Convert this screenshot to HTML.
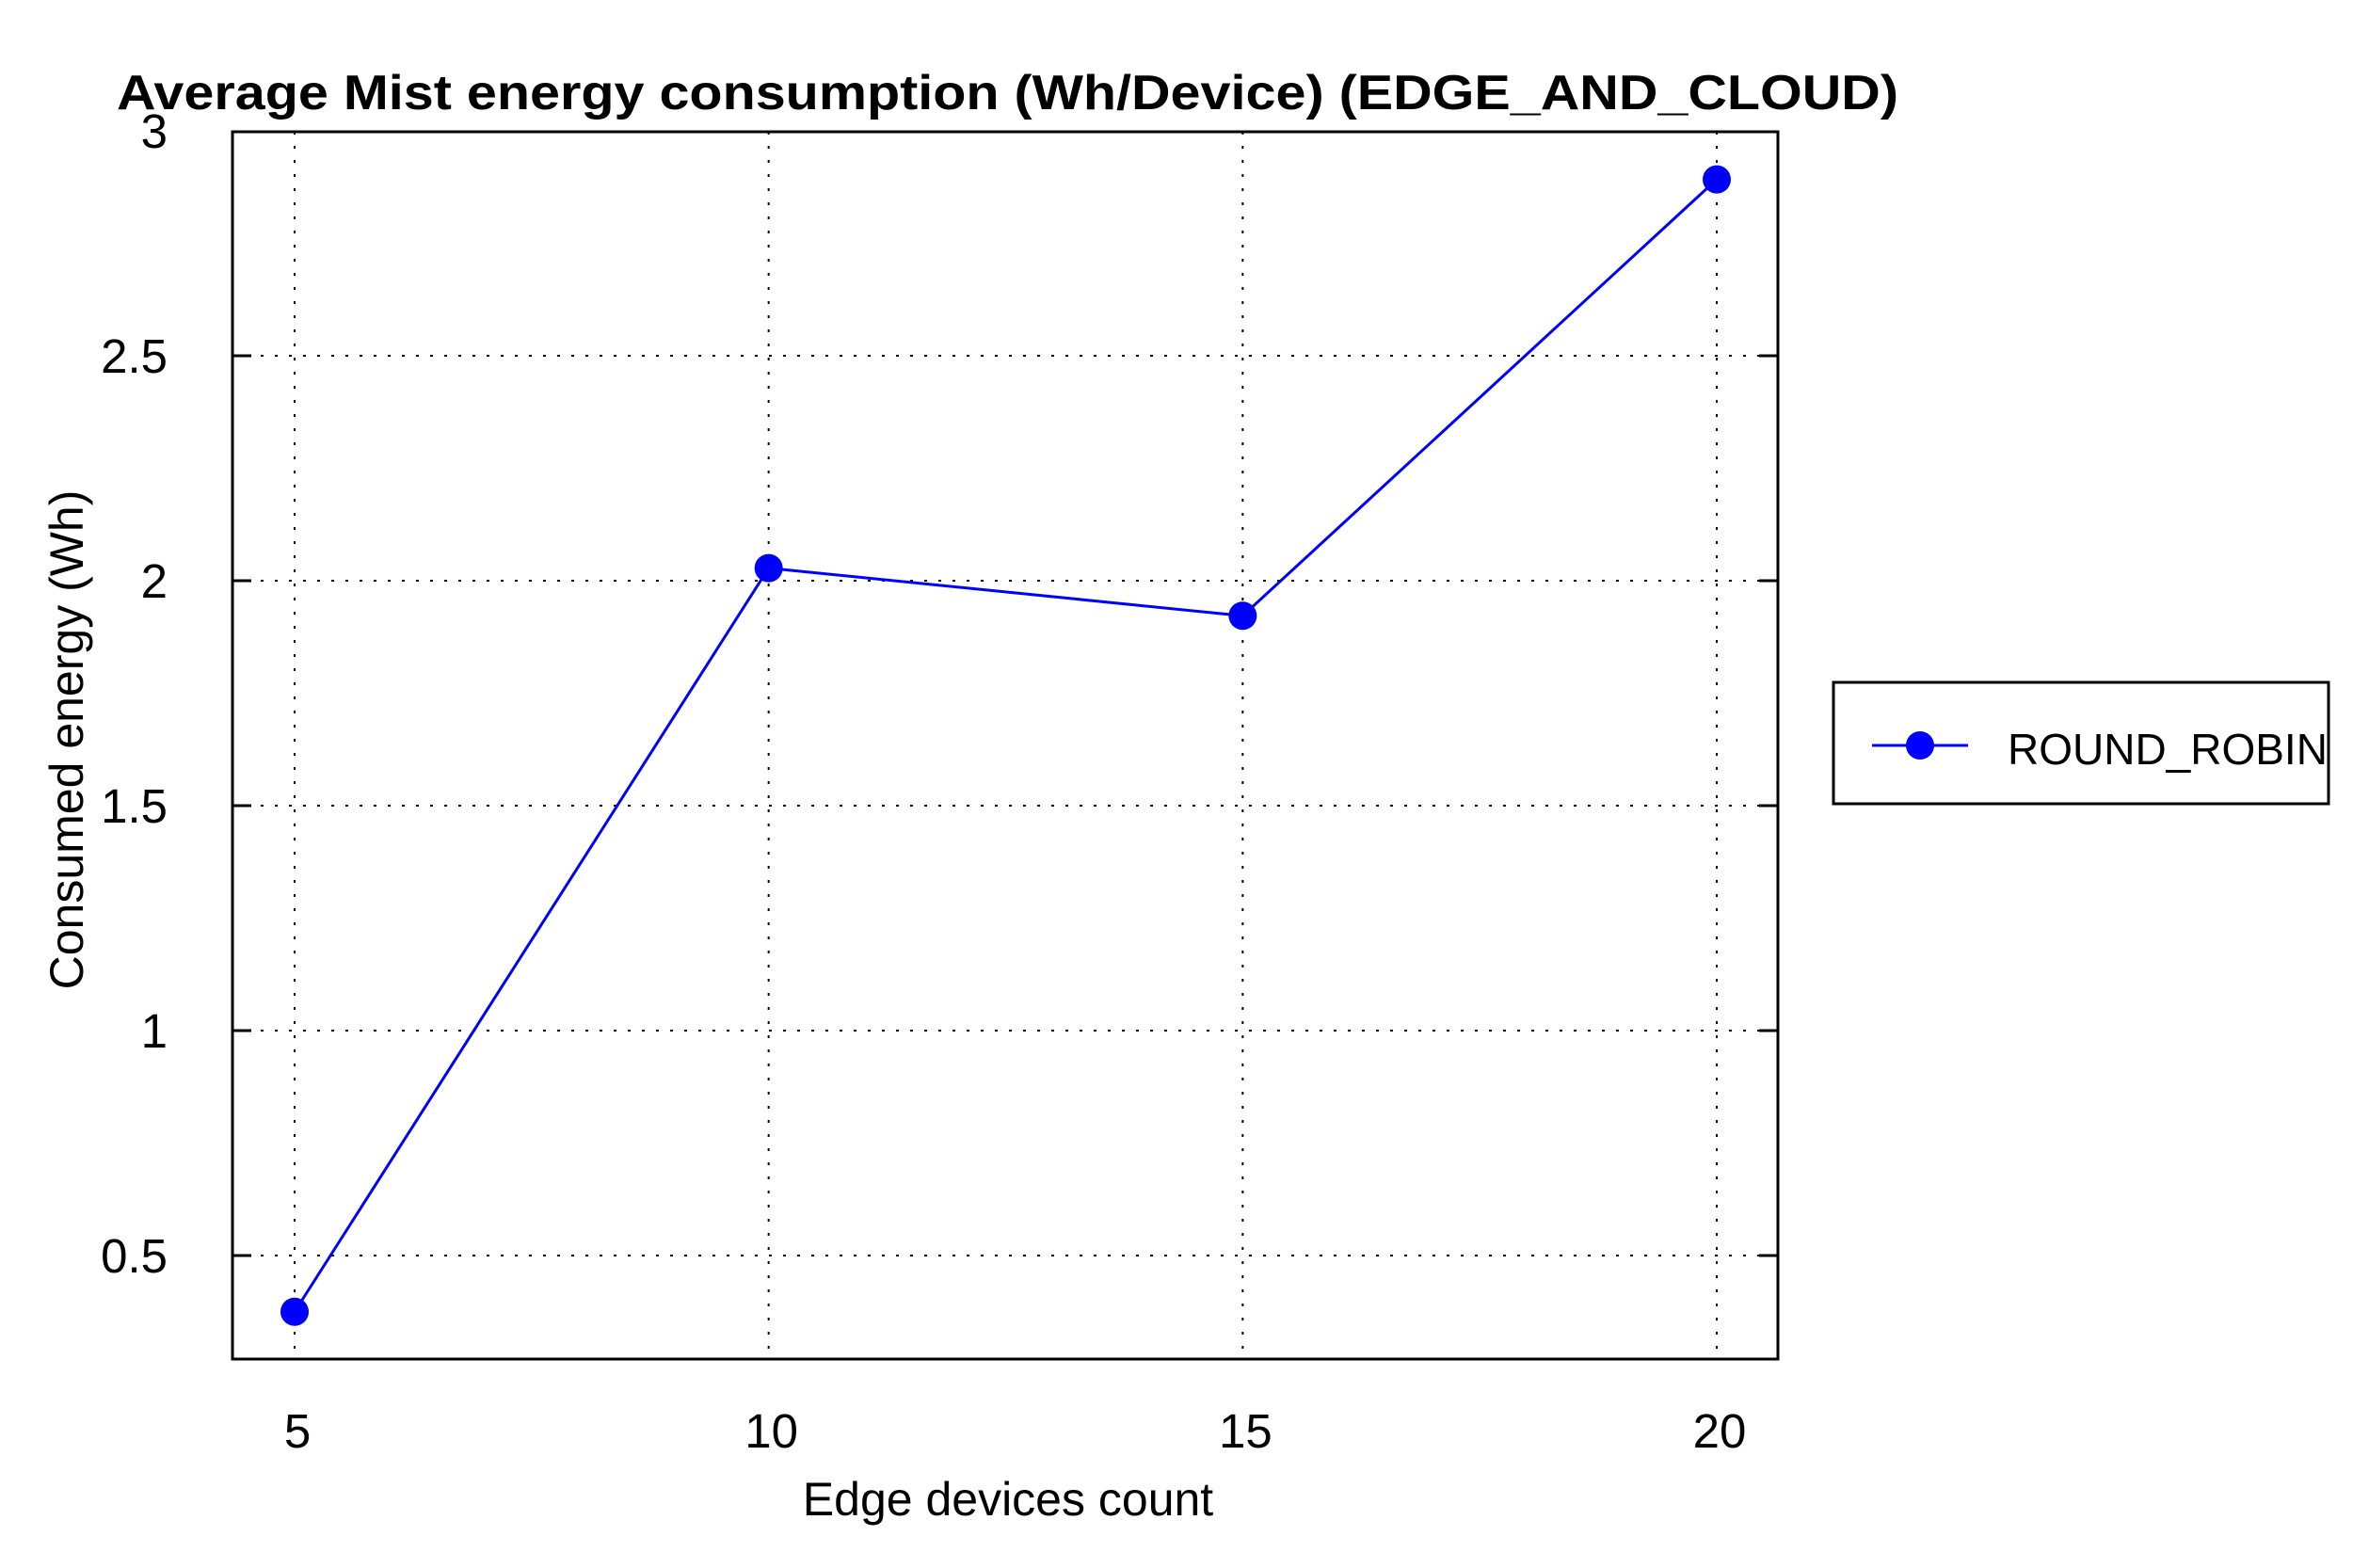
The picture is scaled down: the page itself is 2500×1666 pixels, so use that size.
<!DOCTYPE html>
<html><head><meta charset="utf-8"><style>
html,body{margin:0;padding:0;background:#fff;}
svg{display:block;font-family:"Liberation Sans",Arial,sans-serif;}
</style></head><body>
<svg id="chart" width="2500" height="1666" viewBox="0 0 2500 1666" xmlns="http://www.w3.org/2000/svg">
<text x="124" y="116" font-size="52" font-weight="bold" textLength="1893" lengthAdjust="spacingAndGlyphs">Average Mist energy consumption (Wh/Device) (EDGE_AND_CLOUD)</text>
<g id="grid"></g>
<g id="ticks"></g>
<rect x="247" y="140" width="1642" height="1304" fill="none" stroke="#000" stroke-width="3"/>
<g id="series"></g>
<text x="1071" y="1610" font-size="50" text-anchor="middle">Edge devices count</text>
<text transform="translate(88,786) rotate(-90)" font-size="50" text-anchor="middle">Consumed energy (Wh)</text>
<g>
<rect x="1948" y="725" width="526" height="129" fill="#fff" stroke="#000" stroke-width="3"/>
<line x1="1989" y1="792" x2="2091" y2="792" stroke="#0000ff" stroke-width="3"/>
<circle cx="2040" cy="792" r="15" fill="#0000ff"/>
<text x="2133" y="812" font-size="46">ROUND_ROBIN</text>
</g>
</svg>
<script>
const categories = [5, 10, 15, 20];
const values = [0.375, 2.028, 1.922, 2.892];
const xTicks = [5, 10, 15, 20];
const yTicks = [0.5, 1, 1.5, 2, 2.5, 3];
const yTickLabels = ["0.5", "1", "1.5", "2", "2.5", "3"];

const NS = "http://www.w3.org/2000/svg";
const L = 247, R = 1889, T = 140, B = 1444;
function xs(v){ return 313 + (v - 5) * (1824 - 313) / 15; }
function ys(v){ return 1334 - (v - 0.5) * (1334 - 139) / 2.5; }
function mk(tag, attrs, parent){ const e = document.createElementNS(NS, tag); for (const k in attrs) e.setAttribute(k, attrs[k]); parent.appendChild(e); return e; }

const grid = document.getElementById('grid');
const ticks = document.getElementById('ticks');
xTicks.forEach(function(t){
  const x = xs(t);
  const g = mk('line', {x1:x, y1:T, x2:x, y2:B, stroke:'#000', 'stroke-width':2, 'stroke-dasharray':'3 12'}, grid);
  
  
  const lb = mk('text', {x:x + 3, y:1538, 'font-size':51, 'text-anchor':'middle'}, ticks);
  lb.textContent = String(t);
  
  
});
yTicks.forEach(function(t, i){
  const y = ys(t);
  if (t < 3) {
    const g = mk('line', {x1:L, y1:y, x2:R, y2:y, stroke:'#000', 'stroke-width':2, 'stroke-dasharray':'3 12'}, grid);
    
    
    const tk = mk('line', {x1:L, y1:y, x2:L + 20, y2:y, stroke:'#000', 'stroke-width':3}, ticks);
    
    
    const tk2 = mk('line', {x1:R - 20, y1:y, x2:R, y2:y, stroke:'#000', 'stroke-width':3}, ticks);
    
    
  }
  const lb = mk('text', {x:178, y:y + 18, 'font-size':51, 'text-anchor':'end'}, ticks);
  lb.textContent = yTickLabels[i];
  
  
});

const series = document.getElementById('series');
const pts = categories.map(function(c, i){ return xs(c) + ',' + ys(values[i]); }).join(' ');
const pl = mk('polyline', {points:pts, fill:'none', stroke:'#0000ff', 'stroke-width':3}, series);


categories.forEach(function(c, i){
  const p = mk('circle', {cx:xs(c), cy:ys(values[i]), r:15, fill:'#0000ff'}, series);
  
  
});
</script>
</body></html>
